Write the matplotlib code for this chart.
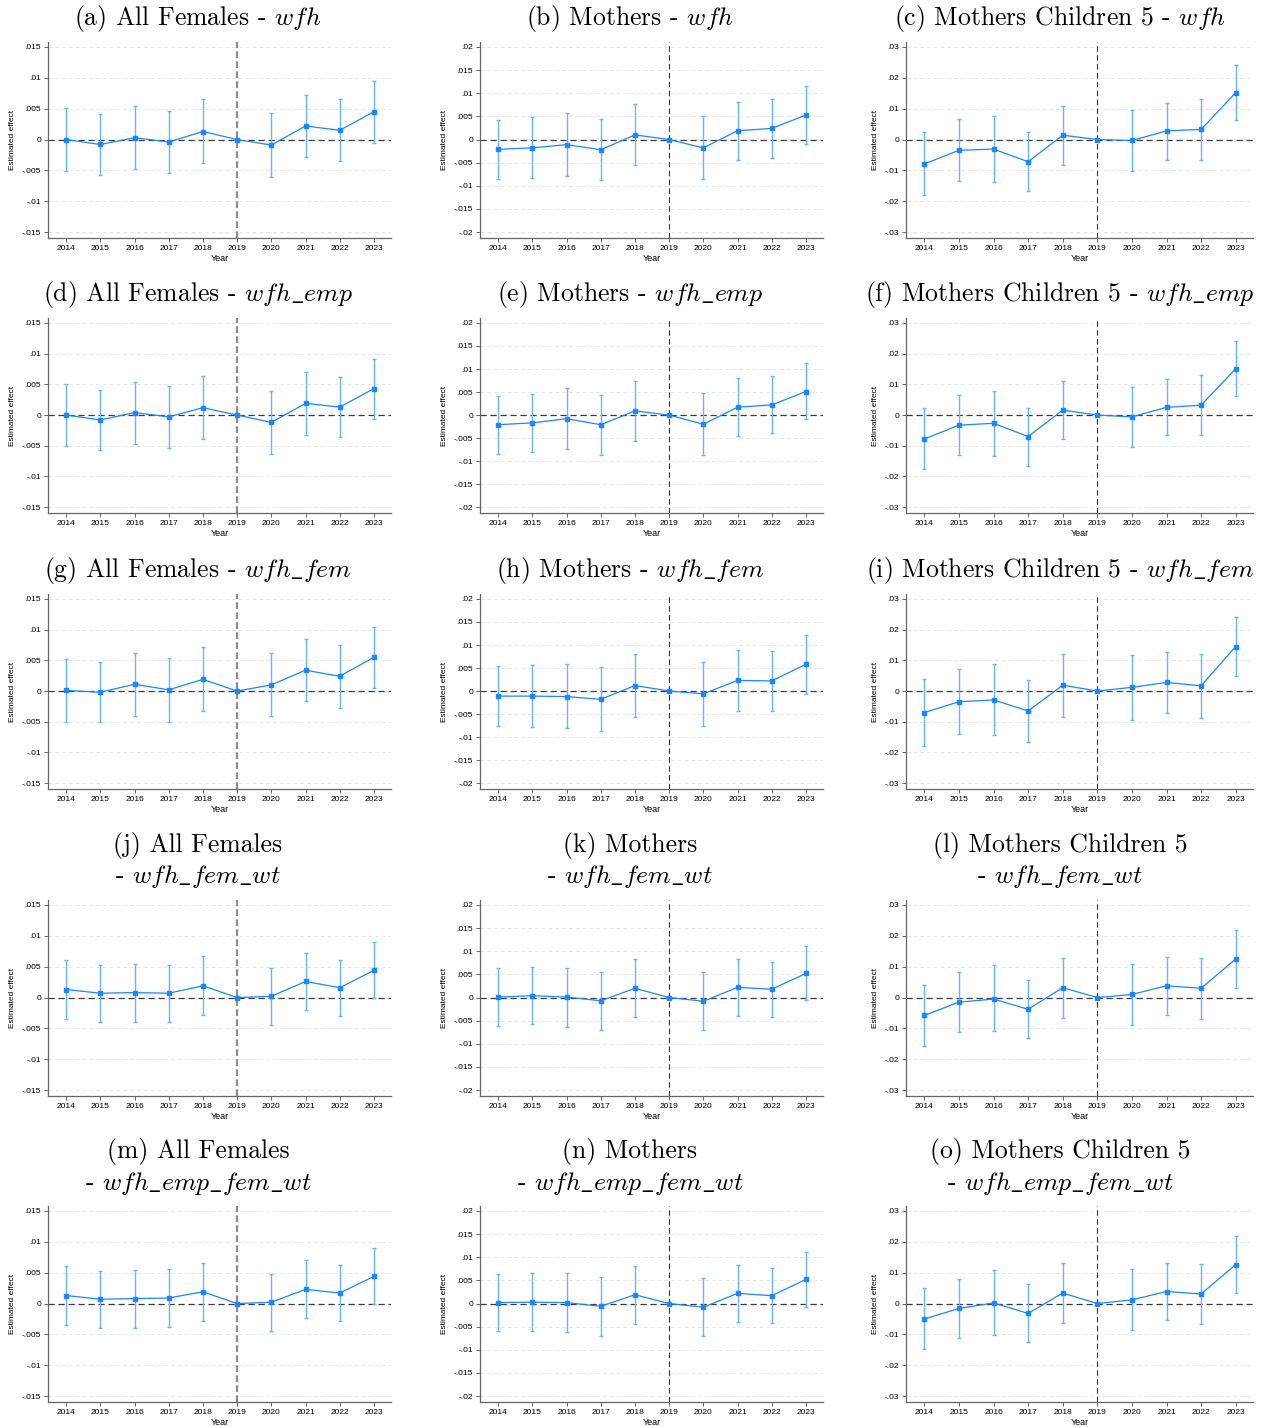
import numpy as np
import matplotlib
matplotlib.use("Agg")
import matplotlib.pyplot as plt

plt.rcParams['mathtext.fontset'] = 'cm'
plt.rcParams['axes.unicode_minus'] = False

nan = np.nan
years = [2014, 2015, 2016, 2017, 2018, 2019, 2020, 2021, 2022, 2023]

# ---- (a) All Females - wfh
a_est = [0.0000, -0.0008, 0.0003, -0.0004, 0.0013, 0.0, -0.0009, 0.0022, 0.0015, 0.0045]
a_lo = [-0.0051, -0.0058, -0.0047, -0.0055, -0.0038, nan, -0.0061, -0.0029, -0.0034, -0.0005]
a_hi = [0.0051, 0.0041, 0.0055, 0.0047, 0.0065, nan, 0.0043, 0.0073, 0.0065, 0.0095]
# ---- (b) Mothers - wfh
b_est = [-0.0021, -0.0018, -0.0011, -0.0022, 0.0010, 0.0, -0.0018, 0.0019, 0.0024, 0.0053]
b_lo = [-0.0085, -0.0083, -0.0078, -0.0088, -0.0056, nan, -0.0086, -0.0045, -0.0039, -0.0009]
b_hi = [0.0043, 0.0048, 0.0057, 0.0044, 0.0076, nan, 0.0050, 0.0082, 0.0087, 0.0115]
# ---- (c) Mothers Children 5 - wfh
c_est = [-0.0079, -0.0035, -0.0031, -0.0072, 0.0014, 0.0, -0.0003, 0.0028, 0.0033, 0.0152]
c_lo = [-0.0181, -0.0133, -0.0138, -0.0168, -0.0083, nan, -0.0103, -0.0065, -0.0065, 0.0062]
c_hi = [0.0023, 0.0065, 0.0077, 0.0023, 0.0110, nan, 0.0097, 0.0120, 0.0132, 0.0242]
# ---- (d) All Females - wfh_emp
d_est = [0.0000, -0.0008, 0.0004, -0.0003, 0.0012, 0.0, -0.0012, 0.0019, 0.0013, 0.0043]
d_lo = [-0.0050, -0.0057, -0.0047, -0.0054, -0.0039, nan, -0.0063, -0.0033, -0.0036, -0.0006]
d_hi = [0.0050, 0.0041, 0.0054, 0.0047, 0.0063, nan, 0.0039, 0.0070, 0.0062, 0.0092]
# ---- (e) Mothers - wfh_emp
e_est = [-0.0021, -0.0017, -0.0008, -0.0021, 0.0009, 0.0, -0.0020, 0.0017, 0.0022, 0.0051]
e_lo = [-0.0084, -0.0080, -0.0073, -0.0086, -0.0056, nan, -0.0086, -0.0045, -0.0039, -0.0009]
e_hi = [0.0042, 0.0046, 0.0058, 0.0044, 0.0074, nan, 0.0047, 0.0080, 0.0084, 0.0112]
# ---- (f) Mothers Children 5 - wfh_emp
f_est = [-0.0078, -0.0033, -0.0027, -0.0070, 0.0016, 0.0, -0.0006, 0.0025, 0.0032, 0.0151]
f_lo = [-0.0177, -0.0130, -0.0133, -0.0165, -0.0078, nan, -0.0104, -0.0065, -0.0065, 0.0062]
f_hi = [0.0022, 0.0065, 0.0078, 0.0023, 0.0110, nan, 0.0091, 0.0117, 0.0129, 0.0241]
# ---- (g) All Females - wfh_fem
g_est = [0.0001, -0.0002, 0.0011, 0.0002, 0.0019, 0.0, 0.0010, 0.0034, 0.0024, 0.0055]
g_lo = [-0.0050, -0.0051, -0.0040, -0.0050, -0.0033, nan, -0.0040, -0.0017, -0.0027, 0.0005]
g_hi = [0.0053, 0.0047, 0.0062, 0.0054, 0.0071, nan, 0.0062, 0.0084, 0.0075, 0.0105]
# ---- (h) Mothers - wfh_fem
h_est = [-0.0011, -0.0011, -0.0012, -0.0018, 0.0012, 0.0, -0.0006, 0.0023, 0.0022, 0.0058]
h_lo = [-0.0077, -0.0078, -0.0081, -0.0087, -0.0057, nan, -0.0075, -0.0043, -0.0044, -0.0006]
h_hi = [0.0055, 0.0057, 0.0058, 0.0053, 0.0081, nan, 0.0063, 0.0089, 0.0088, 0.0122]
# ---- (i) Mothers Children 5 - wfh_fem
i_est = [-0.0070, -0.0035, -0.0029, -0.0065, 0.0019, 0.0, 0.0012, 0.0028, 0.0017, 0.0145]
i_lo = [-0.0179, -0.0141, -0.0144, -0.0167, -0.0083, nan, -0.0093, -0.0071, -0.0089, 0.0049]
i_hi = [0.0039, 0.0071, 0.0087, 0.0036, 0.0122, nan, 0.0116, 0.0126, 0.0122, 0.0242]
# ---- (j) All Females - wfh_fem_wt
j_est = [0.0013, 0.0007, 0.0008, 0.0007, 0.0019, 0.0, 0.0002, 0.0026, 0.0016, 0.0044]
j_lo = [-0.0034, -0.0039, -0.0039, -0.0040, -0.0028, nan, -0.0044, -0.0021, -0.0030, 0.0000]
j_hi = [0.0061, 0.0053, 0.0055, 0.0053, 0.0067, nan, 0.0048, 0.0072, 0.0061, 0.0090]
# ---- (k) Mothers - wfh_fem_wt
k_est = [0.0001, 0.0004, 0.0001, -0.0007, 0.0020, 0.0, -0.0008, 0.0022, 0.0018, 0.0052]
k_lo = [-0.0061, -0.0058, -0.0063, -0.0070, -0.0043, nan, -0.0071, -0.0039, -0.0043, -0.0006]
k_hi = [0.0063, 0.0066, 0.0064, 0.0056, 0.0083, nan, 0.0055, 0.0083, 0.0077, 0.0111]
# ---- (l) Mothers Children 5 - wfh_fem_wt
l_est = [-0.0058, -0.0015, -0.0005, -0.0038, 0.0032, 0.0, 0.0010, 0.0038, 0.0030, 0.0125]
l_lo = [-0.0158, -0.0113, -0.0110, -0.0132, -0.0065, nan, -0.0090, -0.0055, -0.0068, 0.0030]
l_hi = [0.0042, 0.0082, 0.0105, 0.0057, 0.0128, nan, 0.0110, 0.0132, 0.0128, 0.0220]
# ---- (m) All Females - wfh_emp_fem_wt
m_est = [0.0013, 0.0007, 0.0008, 0.0009, 0.0019, 0.0, 0.0002, 0.0023, 0.0017, 0.0044]
m_lo = [-0.0034, -0.0039, -0.0039, -0.0038, -0.0028, nan, -0.0044, -0.0023, -0.0029, -0.0001]
m_hi = [0.0061, 0.0053, 0.0055, 0.0056, 0.0066, nan, 0.0048, 0.0070, 0.0062, 0.0090]
# ---- (n) Mothers - wfh_emp_fem_wt
n_est = [0.0002, 0.0003, 0.0002, -0.0006, 0.0019, 0.0, -0.0008, 0.0022, 0.0017, 0.0052]
n_lo = [-0.0060, -0.0059, -0.0062, -0.0070, -0.0044, nan, -0.0071, -0.0039, -0.0043, -0.0007]
n_hi = [0.0064, 0.0066, 0.0066, 0.0057, 0.0082, nan, 0.0055, 0.0083, 0.0077, 0.0111]
# ---- (o) Mothers Children 5 - wfh_emp_fem_wt
o_est = [-0.0050, -0.0016, 0.0002, -0.0032, 0.0034, 0.0, 0.0012, 0.0039, 0.0031, 0.0126]
o_lo = [-0.0149, -0.0113, -0.0103, -0.0126, -0.0062, nan, -0.0087, -0.0052, -0.0065, 0.0035]
o_hi = [0.0049, 0.0081, 0.0108, 0.0064, 0.0130, nan, 0.0112, 0.0131, 0.0128, 0.0218]

# titles: first line, optional second line
titles = [
    ["(a) All Females - $wfh$"], ["(b) Mothers - $wfh$"], ["(c) Mothers Children 5 - $wfh$"],
    ["(d) All Females - $wfh\\_emp$"], ["(e) Mothers - $wfh\\_emp$"], ["(f) Mothers Children 5 - $wfh\\_emp$"],
    ["(g) All Females - $wfh\\_fem$"], ["(h) Mothers - $wfh\\_fem$"], ["(i) Mothers Children 5 - $wfh\\_fem$"],
    ["(j) All Females", "- $wfh\\_fem\\_wt$"], ["(k) Mothers", "- $wfh\\_fem\\_wt$"], ["(l) Mothers Children 5", "- $wfh\\_fem\\_wt$"],
    ["(m) All Females", "- $wfh\\_emp\\_fem\\_wt$"], ["(n) Mothers", "- $wfh\\_emp\\_fem\\_wt$"], ["(o) Mothers Children 5", "- $wfh\\_emp\\_fem\\_wt$"],
]

panels = [
    (a_est, a_lo, a_hi), (b_est, b_lo, b_hi), (c_est, c_lo, c_hi),
    (d_est, d_lo, d_hi), (e_est, e_lo, e_hi), (f_est, f_lo, f_hi),
    (g_est, g_lo, g_hi), (h_est, h_lo, h_hi), (i_est, i_lo, i_hi),
    (j_est, j_lo, j_hi), (k_est, k_lo, k_hi), (l_est, l_lo, l_hi),
    (m_est, m_lo, m_hi), (n_est, n_lo, n_hi), (o_est, o_lo, o_hi),
]

col_ticks = [
    ([-0.015, -0.01, -0.005, 0, 0.005, 0.01, 0.015], ["-.015", "-.01", "-.005", "0", ".005", ".01", ".015"]),
    ([-0.02, -0.015, -0.01, -0.005, 0, 0.005, 0.01, 0.015, 0.02], ["-.02", "-.015", "-.01", "-.005", "0", ".005", ".01", ".015", ".02"]),
    ([-0.03, -0.02, -0.01, 0, 0.01, 0.02, 0.03], ["-.03", "-.02", "-.01", "0", ".01", ".02", ".03"]),
]

W, H = 1268, 1427
fig = plt.figure(figsize=(W / 100, H / 100), dpi=100)

col_x = [(48, 391), (480, 823), (906, 1253)]
row_y = [(42, 238), (318, 513), (594, 789), (900, 1096), (1206, 1402)]
title_cx = [198, 630, 1060]
title_base = [[25], [301], [577], [852, 883], [1158, 1190]]

main_col = "#1a87ff"
ci_col = "#6cb2ff"

for idx, (est, lo, hi) in enumerate(panels):
    r, c = divmod(idx, 3)
    x0, x1 = col_x[c]
    y0, y1 = row_y[r]
    ax = fig.add_axes([x0 / W, 1 - y1 / H, (x1 - x0) / W, (y1 - y0) / H])
    ticks, labels = col_ticks[c]
    s = ticks[-1]
    ax.set_ylim(-s * 1.064, s * 1.054)
    ax.set_xlim(2013.47, 2023.5)

    ax.set_yticks(ticks)
    ax.set_yticklabels(labels, family="Liberation Sans")
    ax.set_xticks(years)
    ax.set_xticklabels([str(y) for y in years], family="Liberation Sans")
    for t in ticks:
        if t != 0:
            ax.axhline(t, color="#e8e8e8", lw=0.7, ls=(0, (4, 3)), zorder=0)

    ax.axhline(0, color="#3a3a3a", lw=0.9, ls=(0, (5, 3)), zorder=1)
    if c == 0:
        ax.axvline(2019, color="#8c8c8c", lw=1.6, ls=(0, (3, 1.5)), zorder=1)
    else:
        ax.axvline(2019, color="#333333", lw=0.8, ls=(0, (5, 3)), zorder=1)

    est_a = np.array(est)
    lo_a = np.array(lo)
    hi_a = np.array(hi)
    yr = np.array(years)
    m = ~np.isnan(lo_a)
    ax.errorbar(yr[m], est_a[m], yerr=[est_a[m] - lo_a[m], hi_a[m] - est_a[m]],
                fmt="none", ecolor=ci_col, elinewidth=1.0, capsize=1.6, capthick=1.0, zorder=2)
    ax.plot(yr, est_a, "-", color=main_col, lw=0.9, zorder=3)
    ax.plot(yr, est_a, "s", color=main_col, ms=3.2, zorder=4)

    for side in ["top", "right"]:
        ax.spines[side].set_visible(False)
    for side in ["left", "bottom"]:
        ax.spines[side].set_color("#666666")
        ax.spines[side].set_linewidth(0.9)
    ax.tick_params(axis="both", labelsize=6, length=3, width=0.7, color="#666666", pad=2)
    ax.set_ylabel("Estimated effect", fontsize=6, family="Liberation Sans", labelpad=4)
    ax.set_xlabel("Year", fontsize=6.5, family="Liberation Sans", labelpad=1.5)

    for li, line in enumerate(titles[idx]):
        fig.text(title_cx[c] / W, 1 - title_base[r][li] / H, line, ha="center", va="baseline",
                 fontsize=18.5, family="cmr10")

fig.savefig("out.png", dpi=100)
